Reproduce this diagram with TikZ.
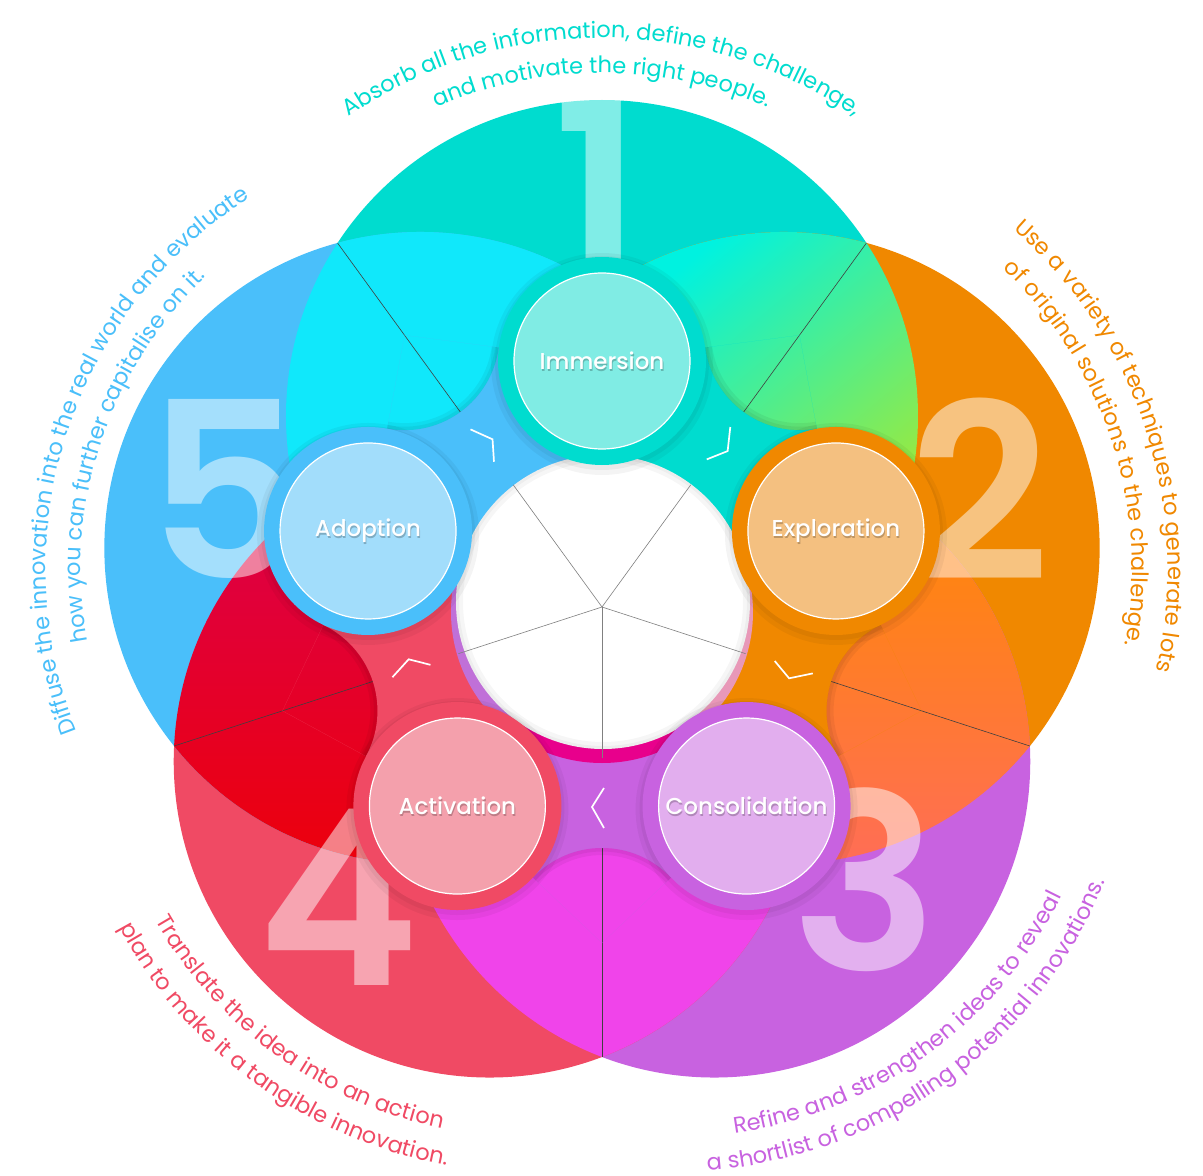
\documentclass[tikz,border=0pt]{standalone}
\usepackage{fontspec}
\newfontfamily\pop{Poppins}
\IfFontExistsTF{Poppins Medium}{\newfontfamily\popm{Poppins Medium}}{\newfontfamily\popm{Poppins}}
\IfFontExistsTF{Poppins SemiBold}{\newfontfamily\popsb{Poppins SemiBold}}{\newcommand\popsb{\pop\bfseries}}
\usetikzlibrary{decorations.text}
\definecolor{cTeal}{HTML}{00DCCF}
\definecolor{cOrange}{HTML}{F08800}
\definecolor{cPurple}{HTML}{C862E0}
\definecolor{cRed}{HTML}{F04A64}
\definecolor{cBlue}{HTML}{4ABFFA}
\definecolor{lTeal}{HTML}{80ECE4}
\definecolor{lOrange}{HTML}{F4C080}
\definecolor{lPurple}{HTML}{E2AEEE}
\definecolor{lRed}{HTML}{F4A0AC}
\definecolor{lBlue}{HTML}{A2DDFB}
\definecolor{toA}{HTML}{00F2E0}
\definecolor{toB}{HTML}{00E89A}
\definecolor{toC}{HTML}{B0E828}
\definecolor{opA}{HTML}{FF8A00}
\definecolor{opB}{HTML}{FF7D00}
\definecolor{opC}{HTML}{FF6A60}
\definecolor{rbA}{HTML}{DC004C}
\definecolor{rbB}{HTML}{EE0004}
\definecolor{prL}{HTML}{F044EA}
\definecolor{btL}{HTML}{10E8FB}
\definecolor{crCyan}{HTML}{00E0F0}
\definecolor{crGreen}{HTML}{10E0A0}
\definecolor{crPink}{HTML}{E898B8}
\definecolor{crMag}{HTML}{E8008C}
\definecolor{crPurp}{HTML}{C070D8}
\newcommand\anfont{\pop\fontsize{22.5}{22.5}\selectfont}
\tikzset{
  petal/.style={fill=#1},
  inner/.style={circle, minimum size=176pt, inner sep=0pt, fill=#1, draw=white, line width=1.2pt},
  lab/.style={font=\popm\fontsize{23}{23}\selectfont, text=white},
  labsh/.style={font=\popm\fontsize{23}{23}\selectfont, text=black, opacity=0.22},
  digit/.style={font=\popsb\fontsize{245}{245}\selectfont, text=white, opacity=0.5, inner sep=0pt},
  chev/.style={draw=white, line width=1.7pt},
  divline/.style={draw=black!75, line width=0.6pt},
  softsh/.style={fill=black, opacity=0.045},
  ann/.style={decorate, decoration={text along path, text align=center, text color=#1}}
}
\begin{document}
\begin{tikzpicture}[x=1pt,y=1pt]
\useasboundingbox (-602,-569) rectangle (601,607);
\fill[white] (-602,-569) rectangle (601,607);
% petals
\fill[petal=cTeal] (90:191pt) circle[radius=316pt];
\fill[petal=cOrange] (18:191pt) circle[radius=316pt];
\fill[petal=cPurple] (-54:191pt) circle[radius=316pt];
\fill[petal=cRed] (-126:191pt) circle[radius=316pt];
\fill[petal=cBlue] (162:191pt) circle[radius=316pt];
% lenses
\begin{scope}
\clip (90:191pt) circle[radius=316pt];
\clip (18:191pt) circle[radius=316pt];
\shade[top color=toA, middle color=toB, bottom color=toC, shading angle=40] (20,10) rectangle (345,385);
\end{scope}
\begin{scope}
\clip (18:191pt) circle[radius=316pt];
\clip (-54:191pt) circle[radius=316pt];
\shade[top color=opA, middle color=opB, bottom color=opC] (150,-300) rectangle (455,120);
\end{scope}
\begin{scope}
\clip (-54:191pt) circle[radius=316pt];
\fill[prL] (-126:191pt) circle[radius=316pt];
\end{scope}
\begin{scope}
\clip (-126:191pt) circle[radius=316pt];
\clip (162:191pt) circle[radius=316pt];
\shade[top color=rbA, bottom color=rbB] (-455,-300) rectangle (-150,120);
\end{scope}
\begin{scope}
\clip (162:191pt) circle[radius=316pt];
\fill[btL] (90:191pt) circle[radius=316pt];
\end{scope}
% digits
\node[digit] (d1) at (-4,418) {1};
\node[digit] (d2) at (378,118) {2};
\node[digit] (d3) at (263,-273) {3};
\node[digit] (d4) at (-264,-290) {4};
\node[digit] (d5) at (-377,118) {5};
% dividing lines
\foreach \a in {126,54,-18,-90,198} \draw[divline] (0,0) -- (\a:450pt);
% blob bridges, with a soft shadow on the lenses along their concave edge
\foreach \a/\c in {90/cTeal,18/cOrange,-54/cPurple,-126/cRed,162/cBlue} {
  \begin{scope}
  \clip (0,0) -- (\a:246pt) -- (\a-36:336pt) -- (\a-72:246pt) -- cycle;
  \fill[\c, even odd rule] (0,0) -- (\a:246pt) -- (\a-36:336pt) -- (\a-72:246pt) -- cycle (\a-36:336pt) circle[radius=95pt];
  \clip (\a-36:336pt) circle[radius=95pt];
  \draw[black, opacity=0.05, line width=14pt] (\a-36:336pt) circle[radius=95pt];
  \draw[black, opacity=0.05, line width=7pt] (\a-36:336pt) circle[radius=95pt];
  \end{scope}
}
% centre disc
\begin{scope}
\clip (0,-5) circle[radius=151pt];
\foreach \a/\c in {126/crCyan,54/crGreen,-18/crPink,-90/crMag,198/crPurp}
  \fill[\c] (0,-5) -- ++(\a-36:220pt) arc[start angle=\a-36, end angle=\a+36, radius=220pt] -- cycle;
\end{scope}
\fill[white] (1,5) circle[radius=147pt];
\begin{scope}
\clip (1,5) circle[radius=147pt];
\draw[black, opacity=0.035, line width=14pt] (1,5) circle[radius=147pt];
\draw[black, opacity=0.035, line width=6pt] (1,5) circle[radius=147pt];
\end{scope}
\foreach \a in {126,54,-18,-90,198} \draw[draw=black!50, line width=0.6pt] (0,0) -- (\a:151pt);
% ring shadows and rings
\foreach \a in {90,18,-54,-126,162} {
  \fill[softsh] ([yshift=-3pt]\a:246pt) circle[radius=111pt];
  \fill[softsh] ([yshift=-2pt]\a:246pt) circle[radius=107pt];
}
\fill[cTeal] (90:246pt) circle[radius=104pt];
\fill[cOrange] (18:246pt) circle[radius=104pt];
\fill[cPurple] (-54:246pt) circle[radius=104pt];
\fill[cRed] (-126:246pt) circle[radius=104pt];
\fill[cBlue] (162:246pt) circle[radius=104pt];
% nodes
\node[inner=lTeal] (imm) at (90:246pt) {};
\node[inner=lOrange] (exp) at (18:246pt) {};
\node[inner=lPurple] (con) at (-54:246pt) {};
\node[inner=lRed] (act) at (-126:246pt) {};
\node[inner=lBlue] (ado) at (162:246pt) {};
\foreach \n/\t in {imm/Immersion,exp/Exploration,con/Consolidation,act/Activation,ado/Adoption}{
  \node[labsh] at ([xshift=0.8pt,yshift=-1.4pt]\n.center) {\t};
  \node[lab] at (\n.center) {\t};
}
% chevrons
\foreach \r in {0,72,144,216,288}
  \draw[chev, rotate=\r] (2,-181) -- (-10,-200) -- (2,-221);
% annotations
\path[ann=cTeal, decoration={text={|\anfont|Absorb all the information, define the challenge,}}]
  ([shift={(90:122pt)}]170:447pt) arc[start angle=170, end angle=10, radius=447pt];
\path[ann=cTeal, decoration={text={|\anfont|and motivate the right people.}}]
  ([shift={(90:122pt)}]170:412pt) arc[start angle=170, end angle=10, radius=412pt];
\path[ann=cOrange, decoration={text={|\anfont|Use a variety of techniques to generate lots}}]
  ([shift={(18:122pt)}]98:450pt) arc[start angle=98, end angle=-62, radius=450pt];
\path[ann=cOrange, decoration={text={|\anfont|of original solutions to the challenge.}}]
  ([shift={(18:122pt)}]98:414pt) arc[start angle=98, end angle=-62, radius=414pt];
\path[ann=cPurple, decoration={text={|\anfont|Refine and strengthen ideas to reveal}}]
  ([shift={(-54:122pt)}]-134:432pt) arc[start angle=-134, end angle=26, radius=432pt];
\path[ann=cPurple, decoration={text={|\anfont|a shortlist of compelling potential innovations.}}]
  ([shift={(-54:122pt)}]-134:466pt) arc[start angle=-134, end angle=26, radius=466pt];
\path[ann=cRed, decoration={text={|\anfont|Translate the idea into an action}}]
  ([shift={(-126:122pt)}]-206:432pt) arc[start angle=-206, end angle=-46, radius=432pt];
\path[ann=cRed, decoration={text={|\anfont|plan to make it a tangible innovation.}}]
  ([shift={(-126:122pt)}]-206:467pt) arc[start angle=-206, end angle=-46, radius=467pt];
\path[ann=cBlue, decoration={text={|\anfont|Diffuse the innovation into the real world and evaluate}}]
  ([shift={(162:122pt)}]242:440pt) arc[start angle=242, end angle=82, radius=440pt];
\path[ann=cBlue, decoration={text={|\anfont|how you can further capitalise on it.}}]
  ([shift={(162:122pt)}]242:405pt) arc[start angle=242, end angle=82, radius=405pt];
\end{tikzpicture}
\end{document}
